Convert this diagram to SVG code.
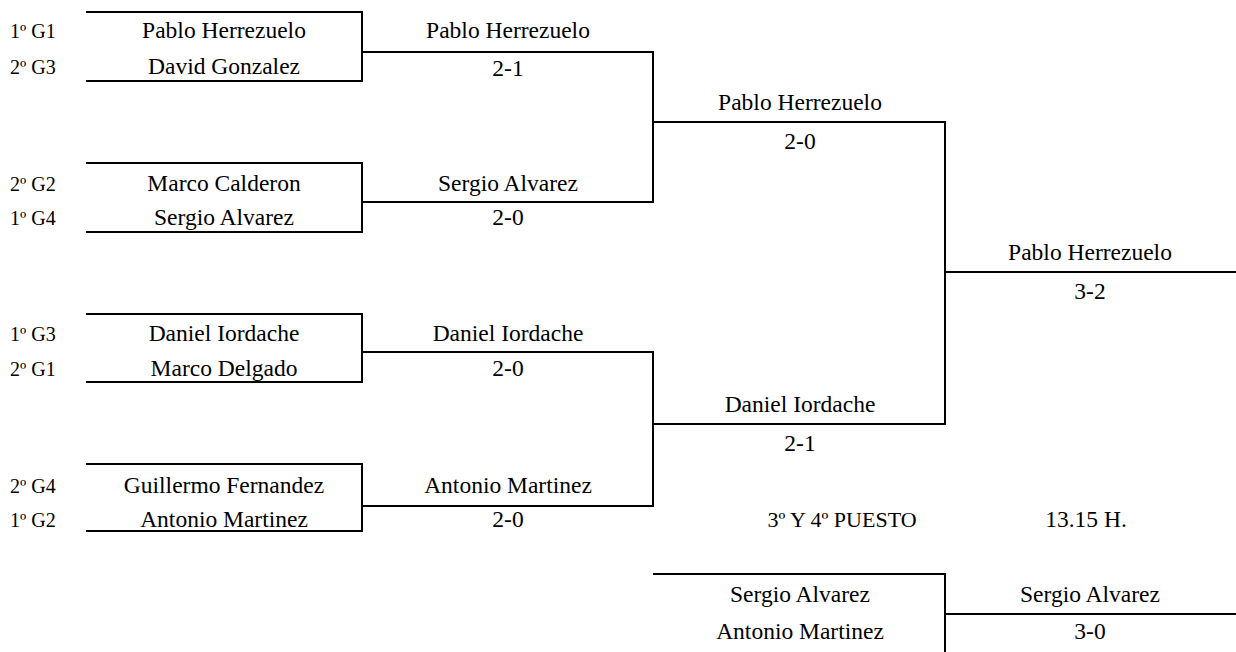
<svg xmlns="http://www.w3.org/2000/svg" width="1236" height="652" viewBox="0 0 1236 652">
<style>
  text { font-family: "Liberation Serif", "Times New Roman", serif; font-size: 23.5px; fill: #000; }
  .c { text-anchor: middle; }
  .lbl { font-size: 20px; }
  .ttl { font-size: 22px; }
  .ln { stroke: #000; stroke-width: 2; fill: none; }
</style>
<rect width="1236" height="652" fill="#fff"/>
<g id="connectors">
  <path class="ln" d="M86,12 H362 V81 H86"/>
  <path class="ln" d="M86,163 H362 V232 H86"/>
  <path class="ln" d="M86,314 H362 V382 H86"/>
  <path class="ln" d="M86,464 H362 V531 H86"/>
  <path class="ln" d="M362,52 H653 V202 H362"/>
  <path class="ln" d="M362,352 H653 V506 H362"/>
  <path class="ln" d="M653,122 H945 V424 H653"/>
  <path class="ln" d="M945,272 H1236"/>
  <path class="ln" d="M653,574 H945 V652"/>
  <path class="ln" d="M945,614 H1236"/>
</g>
<g id="m1">
  <text class="lbl" x="10" y="38">1º G1</text>
  <text class="lbl" x="10" y="74">2º G3</text>
  <text class="c" x="224" y="38">Pablo Herrezuelo</text>
  <text class="c" x="224" y="74">David Gonzalez</text>
</g>
<g id="m2">
  <text class="lbl" x="10" y="191">2º G2</text>
  <text class="lbl" x="10" y="225">1º G4</text>
  <text class="c" x="224" y="191">Marco Calderon</text>
  <text class="c" x="224" y="225">Sergio Alvarez</text>
</g>
<g id="m3">
  <text class="lbl" x="10" y="341">1º G3</text>
  <text class="lbl" x="10" y="376">2º G1</text>
  <text class="c" x="224" y="341">Daniel Iordache</text>
  <text class="c" x="224" y="376">Marco Delgado</text>
</g>
<g id="m4">
  <text class="lbl" x="10" y="493">2º G4</text>
  <text class="lbl" x="10" y="527">1º G2</text>
  <text class="c" x="224" y="493">Guillermo Fernandez</text>
  <text class="c" x="224" y="527">Antonio Martinez</text>
</g>
<g id="qf1">
  <text class="c" x="508" y="38">Pablo Herrezuelo</text>
  <text class="c" x="508" y="76">2-1</text>
</g>
<g id="qf2">
  <text class="c" x="508" y="191">Sergio Alvarez</text>
  <text class="c" x="508" y="225">2-0</text>
</g>
<g id="qf3">
  <text class="c" x="508" y="341">Daniel Iordache</text>
  <text class="c" x="508" y="376">2-0</text>
</g>
<g id="qf4">
  <text class="c" x="508" y="493">Antonio Martinez</text>
  <text class="c" x="508" y="527">2-0</text>
</g>
<g id="sf1">
  <text class="c" x="800" y="110">Pablo Herrezuelo</text>
  <text class="c" x="800" y="149">2-0</text>
</g>
<g id="sf2">
  <text class="c" x="800" y="412">Daniel Iordache</text>
  <text class="c" x="800" y="451">2-1</text>
</g>
<g id="final">
  <text class="c" x="1090" y="260">Pablo Herrezuelo</text>
  <text class="c" x="1090" y="299">3-2</text>
</g>
<g id="third-title">
  <text class="c ttl" x="842" y="527">3º Y 4º PUESTO</text>
  <text class="c" x="1086" y="527">13.15 H.</text>
</g>
<g id="third">
  <text class="c" x="800" y="602">Sergio Alvarez</text>
  <text class="c" x="800" y="639">Antonio Martinez</text>
</g>
<g id="third-result">
  <text class="c" x="1090" y="602">Sergio Alvarez</text>
  <text class="c" x="1090" y="639">3-0</text>
</g>
</svg>
